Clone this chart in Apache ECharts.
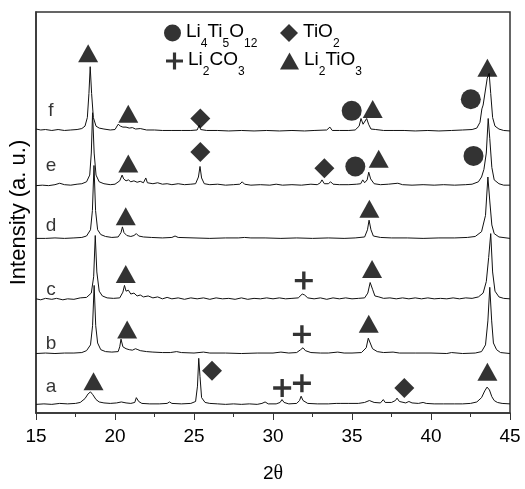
<!DOCTYPE html>
<html>
<head>
<meta charset="utf-8">
<script src="https://cdn.jsdelivr.net/npm/echarts@6/dist/echarts.min.js"></script>
<style>
  html, body { margin: 0; padding: 0; background: #fff; }
  #chart { width: 525px; height: 489px; }
</style>
</head>
<body>
<div id="chart"></div>
<script>
// XRD patterns, [2theta, intensity above own baseline]
const traceA = [[15.0,1],[15.5,1.5],[16.0,1],[16.5,2],[17.0,1.5],[17.5,2],[17.8,3],[18.1,7],[18.3,12],[18.45,14],[18.6,11],[18.8,6],[19.0,3.5],[19.3,2.5],[19.7,2],[20.1,2.5],[20.4,3.5],[20.7,2.5],[21.0,2],[21.25,3],[21.35,8],[21.42,9],[21.5,4],[21.7,2],[22.2,1.5],[22.8,1.5],[23.3,2],[23.45,3.5],[23.6,2],[24.2,1.5],[24.8,2],[25.1,4],[25.22,20],[25.3,49],[25.38,30],[25.48,8],[25.7,3],[26.0,2],[26.5,1.5],[27.0,1],[27.5,1.5],[28.0,1],[28.5,1.5],[29.0,1],[29.3,2],[29.5,3.5],[29.7,1.5],[30.2,1.5],[30.45,3],[30.57,6],[30.7,3],[31.0,1.5],[31.5,2],[31.68,5],[31.78,9.5],[31.9,5],[32.2,2],[32.8,1.5],[33.5,1.5],[34.0,2],[34.1,3.5],[34.25,2],[34.8,2],[35.4,2],[35.8,3],[36.1,5],[36.4,3],[36.8,2.5],[36.98,6],[37.1,3],[37.5,3],[37.75,5],[37.85,7.5],[38.0,4],[38.4,2.5],[38.6,4],[38.8,2.5],[39.2,2],[39.5,3],[39.7,2],[40.2,1.5],[40.8,1.5],[41.5,1.5],[42.0,1.5],[42.5,2],[42.9,3.5],[43.2,8],[43.4,15],[43.55,19],[43.7,16],[43.85,9],[44.0,5],[44.2,3],[44.5,2],[45.0,1.5]];

const traceB = [[15.0,1],[15.6,1.5],[16.2,1],[16.8,1.5],[17.4,1.5],[17.9,2],[18.2,4],[18.45,10],[18.58,30],[18.68,72],[18.78,30],[18.9,12],[19.1,5],[19.4,3],[19.8,2.5],[20.2,3],[20.3,8],[20.38,16],[20.5,8],[20.7,6],[20.9,5],[21.1,4.5],[21.3,6],[21.45,5],[21.6,4],[22.0,3],[22.4,2.5],[23.0,2],[23.5,2],[23.9,3],[24.2,2],[25.0,1.5],[25.6,2.5],[26.0,1.5],[27.0,1.5],[28.0,1],[29.0,1.5],[30.0,1.5],[30.5,2.5],[31.0,1.5],[31.5,2],[31.75,5],[31.9,7],[32.05,4],[32.4,2],[33.0,1.5],[33.5,1.5],[34.1,2.5],[34.5,1.5],[35.0,1.5],[35.6,2],[35.9,7],[36.03,17],[36.15,15],[36.3,6],[36.6,3],[37.0,2],[37.6,2.5],[38.0,1.5],[39.0,1.5],[40.0,1.5],[41.0,1],[41.3,2],[42.0,1],[42.8,1.5],[43.2,3],[43.45,10],[43.6,35],[43.72,70],[43.84,35],[43.95,12],[44.15,5],[44.4,2],[45.0,1]];

const traceC = [[15.0,2],[15.3,1],[15.6,2.5],[16.0,1.5],[16.3,2.5],[16.7,1],[17.0,2],[17.4,1.5],[17.8,3],[18.2,3.5],[18.5,8],[18.65,25],[18.75,68],[18.85,30],[19.0,10],[19.2,5],[19.5,3],[19.9,2.5],[20.3,3],[20.5,9],[20.6,16],[20.7,10],[20.85,11],[21.0,7],[21.2,8],[21.4,5],[21.6,6],[21.8,4],[22.1,5],[22.4,3],[22.7,4],[23.0,2],[23.3,3.5],[23.6,2],[24.0,3],[24.4,1.5],[24.8,3],[25.2,2],[25.6,3],[26.0,1.5],[26.4,3],[26.8,2],[27.2,2.5],[27.6,1.5],[28.0,3],[28.4,1.5],[28.8,2.5],[29.2,2],[29.6,3],[30.0,2],[30.4,3],[30.8,2],[31.2,2.5],[31.6,3],[31.85,7],[32.0,6],[32.2,3],[32.6,2],[33.0,3],[33.4,1.5],[33.8,3],[34.2,2],[34.6,3],[35.0,2],[35.4,2.5],[35.8,3],[36.0,8],[36.15,19],[36.3,12],[36.45,5],[36.7,4],[37.0,2.5],[37.4,3],[37.8,2],[38.2,3],[38.6,2],[39.0,3],[39.4,2],[39.8,3],[40.2,2],[40.6,2.5],[41.0,2],[41.4,3],[41.8,2],[42.2,3],[42.6,2.5],[43.0,4],[43.3,8],[43.5,20],[43.65,45],[43.78,70],[43.9,30],[44.05,10],[44.3,4],[44.6,2.5],[45.0,2]];

const traceD = [[15.0,1],[15.6,1],[16.2,1.5],[16.8,1],[17.4,1.5],[17.9,2],[18.2,3.5],[18.45,10],[18.57,30],[18.67,77],[18.77,30],[18.9,10],[19.1,5],[19.4,3],[19.8,2],[20.2,2.5],[20.38,7],[20.47,13],[20.57,7],[20.75,4],[21.0,3],[21.2,4],[21.35,6],[21.5,3.5],[21.8,2.5],[22.3,2],[23.0,1.5],[23.6,2],[23.8,3.5],[24.0,2],[25.0,1.5],[26.0,1],[27.0,1.5],[27.8,1.5],[28.2,2],[28.6,1.5],[29.5,1.5],[30.5,1],[31.5,1.5],[32.5,1],[33.5,1.5],[34.5,1],[35.2,1.5],[35.8,2.5],[35.98,10],[36.08,20],[36.2,10],[36.35,3.5],[36.8,2],[37.5,1.5],[38.5,1.5],[39.5,1],[40.5,1.5],[41.5,1.5],[42.3,2],[42.8,3],[43.2,8],[43.45,25],[43.6,65],[43.72,40],[43.85,15],[44.0,6],[44.3,2.5],[45.0,1]];

const traceE = [[15.0,1],[15.4,1.5],[15.8,1],[16.2,2],[16.5,3.5],[16.8,2],[17.2,1.5],[17.6,2.5],[17.9,3],[18.2,5],[18.4,12],[18.5,35],[18.58,77],[18.68,35],[18.8,12],[19.0,5],[19.3,3],[19.7,2],[20.0,2.5],[20.3,6],[20.45,12],[20.55,8],[20.7,6],[20.85,7],[21.0,5],[21.2,6],[21.4,4.5],[21.6,5.5],[21.8,4],[21.95,9],[22.05,4],[22.4,3],[22.7,4],[23.0,2.5],[23.3,3],[23.6,2],[24.0,3],[24.4,2],[24.8,2.5],[25.1,3],[25.28,10],[25.38,21],[25.48,9],[25.65,3],[26.0,2],[26.5,2.5],[27.0,1.5],[27.5,2],[27.9,2.5],[28.05,5],[28.2,2.5],[28.6,1.5],[29.2,2],[29.8,1.5],[30.2,2.5],[30.6,1.5],[31.2,2],[31.8,1.5],[32.4,2.5],[32.8,2],[33.0,4],[33.1,7],[33.25,3],[33.5,3],[33.65,5],[33.8,2.5],[34.2,2],[34.8,2],[35.3,2.5],[35.55,3],[35.68,7],[35.8,4],[35.96,7],[36.06,15],[36.18,8],[36.4,3],[36.8,2],[37.3,2.5],[37.9,3.5],[38.2,2],[38.8,1.5],[39.5,2],[40.2,1.5],[40.8,2],[41.5,1.5],[42.2,2],[42.6,2.5],[43.0,5],[43.2,10],[43.35,18],[43.5,35],[43.62,71],[43.72,50],[43.85,20],[44.0,7],[44.3,3],[44.6,1.5],[45.0,1.5]];

const traceF = [[15.0,3],[15.3,2],[15.6,2.5],[16.0,1.5],[16.4,2.5],[16.8,1.5],[17.2,2],[17.6,2.5],[17.9,3.5],[18.1,6],[18.25,15],[18.35,40],[18.43,68],[18.52,40],[18.63,15],[18.8,6],[19.0,4],[19.3,3],[19.7,2],[20.0,2.5],[20.1,4],[20.2,8],[20.35,6],[20.5,5],[20.7,5],[20.9,4],[21.1,4.5],[21.3,3],[21.6,3.5],[22.0,2],[22.5,2],[23.0,1.5],[23.6,1.5],[24.2,1.5],[24.8,1.5],[25.2,2],[25.33,7],[25.42,2.5],[25.8,1.5],[26.5,1.5],[27.2,1],[28.0,1.5],[28.8,1],[29.6,1.5],[30.4,1],[31.2,1.5],[32.0,1],[32.6,1.5],[33.4,2],[33.6,5],[33.75,1.5],[34.2,1.5],[34.8,1.5],[35.2,2],[35.45,6],[35.57,14],[35.7,8],[35.8,9],[35.93,14],[36.05,8],[36.2,3],[36.5,2.5],[37.0,1.5],[37.6,1.5],[38.3,1.5],[39.0,1],[39.8,1.5],[40.5,1],[41.3,1.5],[42.0,2],[42.6,2.5],[42.9,4],[43.1,10],[43.22,24],[43.3,28],[43.42,30],[43.56,56],[43.68,61],[43.78,40],[43.9,15],[44.05,6],[44.3,3],[44.6,1.5],[45.0,1]];

const traces = [traceA, traceB, traceC, traceD, traceE, traceF];
const traceNames = ["a", "b", "c", "d", "e", "f"];
// vertical offset of each pattern (same units as intensity)
const offsets = [8, 61, 117, 181, 236, 293];
const nameLabelY = [27, 72, 128, 195, 258, 315];
const nameLabelX = 15.95;

// phase markers [2theta, y]
const circlePts = [[34.98, 315], [42.52, 327], [35.21, 257], [42.69, 268]];
const diamondPts = [[25.40, 307], [25.40, 272], [33.25, 255], [26.14, 44], [38.31, 26]];
const plusPts = [[31.95, 138], [31.83, 82], [30.58, 26], [31.83, 31]];
const trianglePts = [[18.3, 375], [20.84, 312], [36.31, 317], [43.57, 360],
  [20.84, 260], [36.69, 265], [20.68, 205], [36.10, 213], [20.68, 145], [36.27, 150],
  [20.77, 87], [36.06, 93], [18.64, 33], [43.57, 43]];

const phaseRich = {
  Li4Ti5O12: "{b|Li}{s|4}{b|Ti}{s|5}{b|O}{s|12}",
  TiO2: "{b|TiO}{s|2}",
  Li2CO3: "{b|Li}{s|2}{b|CO}{s|3}",
  Li2TiO3: "{b|Li}{s|2}{b|TiO}{s|3}",
};

const plusPath = "path://M0,6.5H16V9.5H0Z M6.5,0H9.5V16H6.5Z";

const chart = echarts.init(document.getElementById("chart"));

const richStyle = {
  b: { fontSize: 19, lineHeight: 22, verticalAlign: "top", color: "#000" },
  s: { fontSize: 12, lineHeight: 12, verticalAlign: "top", padding: [16, 0, 0, 0], color: "#000" },
};

function makeLegend(name, left, top, icon, w, h) {
  return {
    data: [name],
    left: left,
    top: top,
    icon: icon,
    itemWidth: w,
    itemHeight: h,
    itemGap: 0,
    selectedMode: false,
    padding: 0,
    formatter: (n) => phaseRich[n],
    textStyle: { rich: richStyle, fontFamily: "Liberation Sans" },
  };
}

const lineSeries = traces.map((t, i) => {
  return {
    type: "line",
    name: "trace " + traceNames[i],
    data: t.map((p) => [p[0], p[1] + offsets[i]]),
    showSymbol: false,
    symbol: "none",
    lineStyle: { color: "#111", width: 1 },
    z: 2,
  };
});

const markerStyle = { color: "#000" };

const option = {
  animation: false,
  textStyle: { fontFamily: "Liberation Sans" },
  grid: {
    left: 34,
    right: 15,
    top: 12,
    bottom: 59,
    show: true,
    borderColor: "#333",
    borderWidth: 1.5,
  },
  legend: [
    makeLegend("Li4Ti5O12", 164, 22, "circle", 17, 17),
    makeLegend("TiO2", 280, 22, "diamond", 18, 18),
    makeLegend("Li2CO3", 166, 50, plusPath, 17, 17),
    makeLegend("Li2TiO3", 280, 50, "triangle", 19, 17),
  ],
  xAxis: {
    type: "value",
    min: 15,
    max: 45,
    interval: 5,
    name: "2{t|θ}",
    nameLocation: "middle",
    nameGap: 51,
    nameTextStyle: {
      fontSize: 19,
      color: "#000",
      rich: { t: { fontSize: 20, fontFamily: "Liberation Serif", color: "#000" } },
    },
    axisLine: { lineStyle: { color: "#333", width: 1.5 } },
    axisTick: { show: true, inside: false, length: 7, lineStyle: { color: "#333" } },
    minorTick: { show: true, splitNumber: 2, length: 4, lineStyle: { color: "#333" } },
    axisLabel: { fontSize: 19, color: "#000", margin: 14 },
    splitLine: { show: false },
  },
  yAxis: {
    type: "value",
    min: 0,
    max: 418,
    name: "Intensity (a. u.)",
    nameLocation: "middle",
    nameGap: 6,
    nameTextStyle: { fontSize: 22, color: "#000" },
    axisLine: { show: true, lineStyle: { color: "#333", width: 1.5 } },
    axisTick: { show: false },
    axisLabel: { show: false },
    splitLine: { show: false },
  },
  series: [
    ...lineSeries,
    {
      type: "scatter",
      name: "labels",
      data: traceNames.map((n, i) => ({ name: n, value: [nameLabelX, nameLabelY[i]] })),
      symbolSize: 0,
      itemStyle: { color: "transparent" },
      label: {
        show: true,
        position: "inside",
        formatter: (p) => p.name,
        fontSize: 19,
        color: "#000",
      },
      z: 3,
    },
    {
      type: "scatter",
      name: "Li4Ti5O12",
      data: circlePts,
      symbol: "circle",
      symbolSize: 20,
      itemStyle: markerStyle,
      z: 4,
    },
    {
      type: "scatter",
      name: "TiO2",
      data: diamondPts,
      symbol: "diamond",
      symbolSize: 20,
      itemStyle: markerStyle,
      z: 4,
    },
    {
      type: "scatter",
      name: "Li2CO3",
      data: plusPts,
      symbol: plusPath,
      symbolSize: 18,
      itemStyle: markerStyle,
      z: 4,
    },
    {
      type: "scatter",
      name: "Li2TiO3",
      data: trianglePts,
      symbol: "triangle",
      symbolSize: [20, 18],
      itemStyle: markerStyle,
      z: 4,
    },
  ],
};

chart.setOption(option);
</script>
</body>
</html>
